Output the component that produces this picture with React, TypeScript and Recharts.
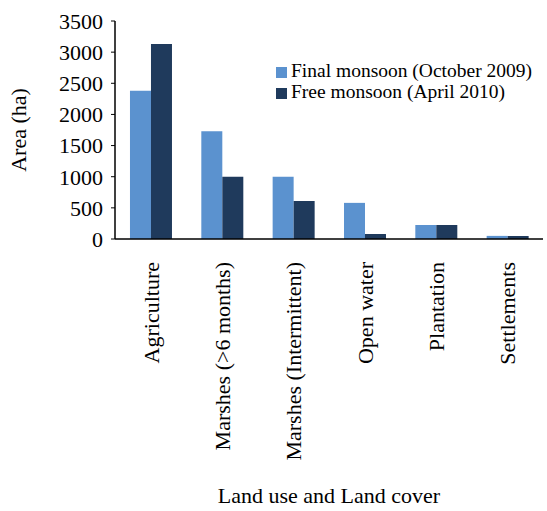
import { BarChart, Bar, XAxis, YAxis, Legend, Label } from 'recharts';

const categories = [
    'Agriculture',
    'Marshes (>6 months)',
    'Marshes (Intermittent)',
    'Open water',
    'Plantation',
    'Settlements',
];
const finalMonsoon = [2380, 1730, 1000, 580, 225, 50];
const freeMonsoon = [3130, 1000, 610, 80, 225, 50];
const yTicks = [0, 500, 1000, 1500, 2000, 2500, 3000, 3500];

const FONT = '"Liberation Serif", "DejaVu Serif", serif';

const data = categories.map((name, i) => ({
    name,
    final: finalMonsoon[i],
    free: freeMonsoon[i],
}));

// rotated category labels, reading bottom-to-top
const RotatedTick = (props: any) => {
    const { x, y, payload } = props;
    return (
        <text
            x={0}
            y={0}
            transform={`translate(${x + 8},${y + 15}) rotate(-90)`}
            textAnchor="end"
            fontFamily={FONT}
            fontSize={22}
            fill="#000"
        >
            {payload.value}
        </text>
    );
};

const App = () => {
    return (
        <div style={{ position: 'absolute', left: 0, top: 0, background: '#fff' }}>
            <BarChart
                width={547}
                height={511}
                data={data}
                margin={{ top: 21, right: 4, bottom: 0, left: 0 }}
                barCategoryGap="21%"
                barGap={0}
            >
                <XAxis
                    dataKey="name"
                    interval={0}
                    height={272}
                    tickLine={false}
                    axisLine={{ stroke: '#000', strokeWidth: 1.5 }}
                    tick={<RotatedTick />}
                >
                    <Label
                        value="Land use and Land cover"
                        position="insideBottom"
                        offset={8}
                        style={{ fontFamily: FONT, fontSize: 22, fill: '#000' }}
                    />
                </XAxis>
                <YAxis
                    width={115}
                    domain={[0, 3500]}
                    ticks={yTicks}
                    interval={0}
                    tickSize={4}
                    tickMargin={8}
                    tickLine={{ stroke: '#000' }}
                    axisLine={{ stroke: '#000', strokeWidth: 1.5 }}
                    tick={{ fontFamily: FONT, fontSize: 22, fill: '#000' }}
                >
                    <Label
                        value="Area (ha)"
                        angle={-90}
                        position="insideLeft"
                        offset={18}
                        style={{ textAnchor: 'middle', fontFamily: FONT, fontSize: 22, fill: '#000' }}
                    />
                </YAxis>
                <Legend
                    layout="vertical"
                    align="center"
                    verticalAlign="middle"
                    iconType="square"
                    iconSize={11}
                    wrapperStyle={{
                        left: 276,
                        top: 60,
                        width: 270,
                        textAlign: 'left',
                        fontFamily: FONT,
                        fontSize: 19.5,
                        lineHeight: '21px',
                    }}
                    formatter={(value) => <span style={{ color: '#000' }}>{value}</span>}
                />
                <Bar
                    dataKey="final"
                    name="Final monsoon (October 2009)"
                    fill="#5b92cf"
                    isAnimationActive={false}
                />
                <Bar
                    dataKey="free"
                    name="Free monsoon (April 2010)"
                    fill="#1f3a5c"
                    isAnimationActive={false}
                />
            </BarChart>
        </div>
    );
};

export default App;
